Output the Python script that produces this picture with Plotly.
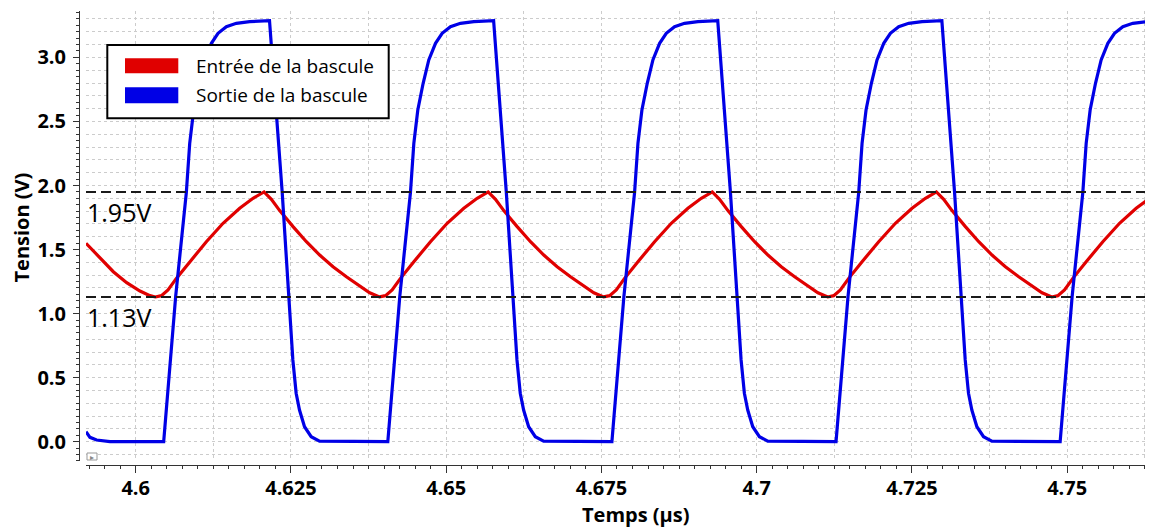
import plotly.graph_objects as go

# ---------------- data ----------------
series_names = ["Entrée de la bascule", "Sortie de la bascule"]

# Red: input of the latch (time in µs, voltage in V)
time_in = [
    4.59200, 4.59425, 4.59640, 4.59855, 4.60069, 4.60230,
    4.60317, 4.60414, 4.60521, 4.60655, 4.60870, 4.61138, 4.61407, 4.61675, 4.61890, 4.62067,
    4.62185, 4.62319, 4.62534, 4.62749, 4.62963, 4.63178, 4.63393, 4.63607, 4.63768,
    4.63926, 4.64023, 4.64130, 4.64264, 4.64479, 4.64747, 4.65016, 4.65284, 4.65499, 4.65676,
    4.65794, 4.65928, 4.66143, 4.66358, 4.66572, 4.66787, 4.67002, 4.67216, 4.67377,
    4.67535, 4.67632, 4.67739, 4.67873, 4.68088, 4.68356, 4.68625, 4.68893, 4.69108, 4.69285,
    4.69403, 4.69537, 4.69752, 4.69967, 4.70181, 4.70396, 4.70611, 4.70825, 4.70986,
    4.71144, 4.71241, 4.71348, 4.71482, 4.71697, 4.71965, 4.72234, 4.72502, 4.72717, 4.72894,
    4.73012, 4.73146, 4.73361, 4.73576, 4.73790, 4.74005, 4.74220, 4.74434, 4.74595,
    4.74753, 4.74850, 4.74957, 4.75091, 4.75306, 4.75574, 4.75843, 4.76111, 4.76326, 4.76503,
]
v_in = [
    1.549, 1.431, 1.327, 1.241, 1.176, 1.140,
    1.130, 1.140, 1.184, 1.275, 1.405, 1.561, 1.705, 1.822, 1.900, 1.950,
    1.892, 1.804, 1.679, 1.561, 1.457, 1.366, 1.288, 1.218, 1.163,
    1.130, 1.140, 1.184, 1.275, 1.405, 1.561, 1.705, 1.822, 1.900, 1.950,
    1.892, 1.804, 1.679, 1.561, 1.457, 1.366, 1.288, 1.218, 1.163,
    1.130, 1.140, 1.184, 1.275, 1.405, 1.561, 1.705, 1.822, 1.900, 1.950,
    1.892, 1.804, 1.679, 1.561, 1.457, 1.366, 1.288, 1.218, 1.163,
    1.130, 1.140, 1.184, 1.275, 1.405, 1.561, 1.705, 1.822, 1.900, 1.950,
    1.892, 1.804, 1.679, 1.561, 1.457, 1.366, 1.288, 1.218, 1.163,
    1.130, 1.140, 1.184, 1.275, 1.405, 1.561, 1.705, 1.822, 1.900, 1.950,
]

# Blue: output of the latch
time_out = [
    4.59200, 4.59264, 4.59371, 4.59586,
    4.60451, 4.60644, 4.60816, 4.60870, 4.60934, 4.61020, 4.61111, 4.61219, 4.61326, 4.61460, 4.61621, 4.61836,
    4.62155, 4.62359, 4.62466, 4.62531, 4.62584, 4.62638, 4.62719, 4.62826, 4.62960,
    4.64060, 4.64253, 4.64425, 4.64479, 4.64543, 4.64629, 4.64720, 4.64828, 4.64935, 4.65069, 4.65230, 4.65445,
    4.65764, 4.65968, 4.66075, 4.66140, 4.66193, 4.66247, 4.66328, 4.66435, 4.66569,
    4.67669, 4.67862, 4.68034, 4.68088, 4.68152, 4.68238, 4.68329, 4.68437, 4.68544, 4.68678, 4.68839, 4.69054,
    4.69373, 4.69577, 4.69684, 4.69749, 4.69802, 4.69856, 4.69937, 4.70044, 4.70178,
    4.71278, 4.71471, 4.71643, 4.71697, 4.71761, 4.71847, 4.71938, 4.72046, 4.72153, 4.72287, 4.72448, 4.72663,
    4.72982, 4.73186, 4.73293, 4.73358, 4.73411, 4.73465, 4.73546, 4.73653, 4.73787,
    4.74887, 4.75080, 4.75252, 4.75306, 4.75370, 4.75456, 4.75547, 4.75655, 4.75762, 4.75896, 4.76057, 4.76272,
    4.76500,
]
v_out = [
    0.078, 0.034, 0.013, 0.000,
    0.000, 1.134, 1.947, 2.329, 2.589, 2.798, 2.980, 3.110, 3.188, 3.240, 3.266, 3.279,
    3.287, 1.950, 1.130, 0.638, 0.378, 0.247, 0.117, 0.039, 0.005,
    0.000, 1.134, 1.947, 2.329, 2.589, 2.798, 2.980, 3.110, 3.188, 3.240, 3.266, 3.279,
    3.287, 1.950, 1.130, 0.638, 0.378, 0.247, 0.117, 0.039, 0.005,
    0.000, 1.134, 1.947, 2.329, 2.589, 2.798, 2.980, 3.110, 3.188, 3.240, 3.266, 3.279,
    3.287, 1.950, 1.130, 0.638, 0.378, 0.247, 0.117, 0.039, 0.005,
    0.000, 1.134, 1.947, 2.329, 2.589, 2.798, 2.980, 3.110, 3.188, 3.240, 3.266, 3.279,
    3.287, 1.950, 1.130, 0.638, 0.378, 0.247, 0.117, 0.039, 0.005,
    0.000, 1.134, 1.947, 2.329, 2.589, 2.798, 2.980, 3.110, 3.188, 3.240, 3.266, 3.279,
    3.287,
]

thresholds = [1.95, 1.13]
threshold_labels = ["1.95V", "1.13V"]

x_tick_vals = [4.6, 4.625, 4.65, 4.675, 4.7, 4.725, 4.75]
x_tick_text = ["4.6", "4.625", "4.65", "4.675", "4.7", "4.725", "4.75"]
x_title = "Temps (µs)"
y_title = "Tension (V)"

# ---------------- styling / layout ----------------
# The page body has an 8px margin, so the figure is made 8px smaller and
# all layout pixel positions below are given in window pixels.
OFF = 8
W, H = 1153 - OFF, 529 - OFF
ML, MR, MT, MB = 79 - OFF, 0, 11 - OFF, 529 - 465
PW, PH = W - ML - MR, H - MT - MB

def px(x):
    return (x - OFF - ML) / PW

def py(y):
    return (H - MB - (y - OFF)) / PH

RED = "#E00000"
BLUE = "#0000E6"
FONT = "Open Sans"
X_RANGE = [4.59200, 4.76382]
Y_RANGE = [-0.1507, 3.3622]
XDOM = [px(86), 1]
YDOM = [py(461), 1]

fig = go.Figure()
# empty trace to activate the grid overlay axes
fig.add_trace(go.Scatter(x=[None], y=[None], xaxis="x2", yaxis="y2",
                         showlegend=False, hoverinfo="skip"))
fig.add_trace(go.Scatter(x=time_in, y=v_in, mode="lines", name=series_names[0],
                         line=dict(color=RED, width=3.2), showlegend=False))
fig.add_trace(go.Scatter(x=time_out, y=v_out, mode="lines", name=series_names[1],
                         line=dict(color=BLUE, width=3.2), showlegend=False))

grid_col = "#cccccc"
fig.update_layout(
    width=W, height=H,
    margin=dict(l=ML, r=MR, t=MT, b=MB),
    plot_bgcolor="white", paper_bgcolor="white",
    showlegend=False,
    font=dict(family=FONT, color="black"),
    xaxis=dict(
        range=X_RANGE, domain=XDOM, anchor="free", position=0,
        tickvals=x_tick_vals, ticktext=x_tick_text,
        ticks="outside", ticklen=7, tickwidth=1, tickcolor="#333",
        showline=True, linecolor="#333", linewidth=1,
        showgrid=False, zeroline=False,
        tickfont=dict(family=FONT, size=20, weight="bold", color="black"),
        ticklabelstandoff=-2,
        minor=dict(dtick=0.0025, tick0=4.6, ticks="outside", ticklen=3,
                   tickcolor="#333", showgrid=False),
    ),
    yaxis=dict(
        range=Y_RANGE, domain=YDOM, anchor="free", position=0,
        dtick=0.5, tick0=0, tickformat=".1f",
        ticks="outside", ticklen=6, tickwidth=1, tickcolor="#333",
        showline=True, linecolor="#333", linewidth=1,
        showgrid=False, zeroline=False,
        tickfont=dict(family=FONT, size=20, weight="bold", color="black"),
        ticklabelstandoff=3,
        minor=dict(dtick=0.05, tick0=0, ticks="outside", ticklen=3,
                   tickcolor="#333", showgrid=False),
    ),
    xaxis2=dict(
        range=X_RANGE, domain=XDOM, overlaying="x", anchor="y2",
        dtick=0.0125, tick0=4.6, showgrid=True, gridcolor=grid_col,
        griddash="dot", gridwidth=1, showticklabels=False, ticks="",
        zeroline=False, showline=False,
    ),
    yaxis2=dict(
        range=Y_RANGE, domain=YDOM, overlaying="y", anchor="x2",
        dtick=0.1, tick0=0, showgrid=True, gridcolor=grid_col,
        griddash="dot", gridwidth=1, showticklabels=False, ticks="",
        zeroline=False, showline=False,
    ),
)

shapes = []
annotations = []
# threshold dashed lines
for thr in thresholds:
    shapes.append(dict(type="line", xref="x domain", yref="y", x0=0, x1=1,
                       y0=thr, y1=thr,
                       line=dict(color="#1a1a1a", width=2, dash="10px,5px")))
for thr, lab in zip(thresholds, threshold_labels):
    annotations.append(dict(text=lab, xref="paper", yref="y", x=px(85), y=thr,
                            xanchor="left", yanchor="top", yshift=-1,
                            showarrow=False,
                            font=dict(family=FONT, size=25, color="black")))

# legend box (drawn as in the reference)
shapes.append(dict(type="rect", xref="paper", yref="paper",
                   x0=px(107.3), x1=px(388.7), y0=py(118.3), y1=py(45),
                   fillcolor="white", line=dict(color="black", width=2),
                   layer="above"))
swatch_rows = [(58.3, 73.3, RED), (87.3, 103.3, BLUE)]
for (ya, yb, col) in swatch_rows:
    shapes.append(dict(type="rect", xref="paper", yref="paper",
                       x0=px(125), x1=px(178.3), y0=py(yb), y1=py(ya),
                       fillcolor=col, line=dict(width=0), layer="above"))
for name, yc in zip(series_names, [66, 95]):
    annotations.append(dict(text=name, xref="paper", yref="paper",
                            x=px(194), y=py(yc), xanchor="left", yanchor="middle",
                            showarrow=False,
                            font=dict(family=FONT, size=19, color="black")))

# small corner icon
shapes.append(dict(type="rect", xref="paper", yref="paper",
                   x0=px(87), x1=px(97), y0=py(460), y1=py(453),
                   line=dict(color="#999", width=1), fillcolor="white"))
annotations.append(dict(text="▸", xref="paper", yref="paper", x=px(92), y=py(456.5),
                        xanchor="center", yanchor="middle", showarrow=False,
                        font=dict(size=8, color="#888")))

# axis titles
annotations.append(dict(text=y_title, xref="paper", yref="paper",
                        x=px(21), y=py(227.5), textangle=-90,
                        xanchor="center", yanchor="middle", showarrow=False,
                        font=dict(family=FONT, size=20, weight="bold", color="black")))
annotations.append(dict(text=x_title, xref="paper", yref="paper",
                        x=px(636), y=py(514), xanchor="center", yanchor="middle",
                        showarrow=False,
                        font=dict(family=FONT, size=20, weight="bold", color="black")))

fig.update_layout(shapes=shapes, annotations=annotations)
fig.write_html("out.html")
